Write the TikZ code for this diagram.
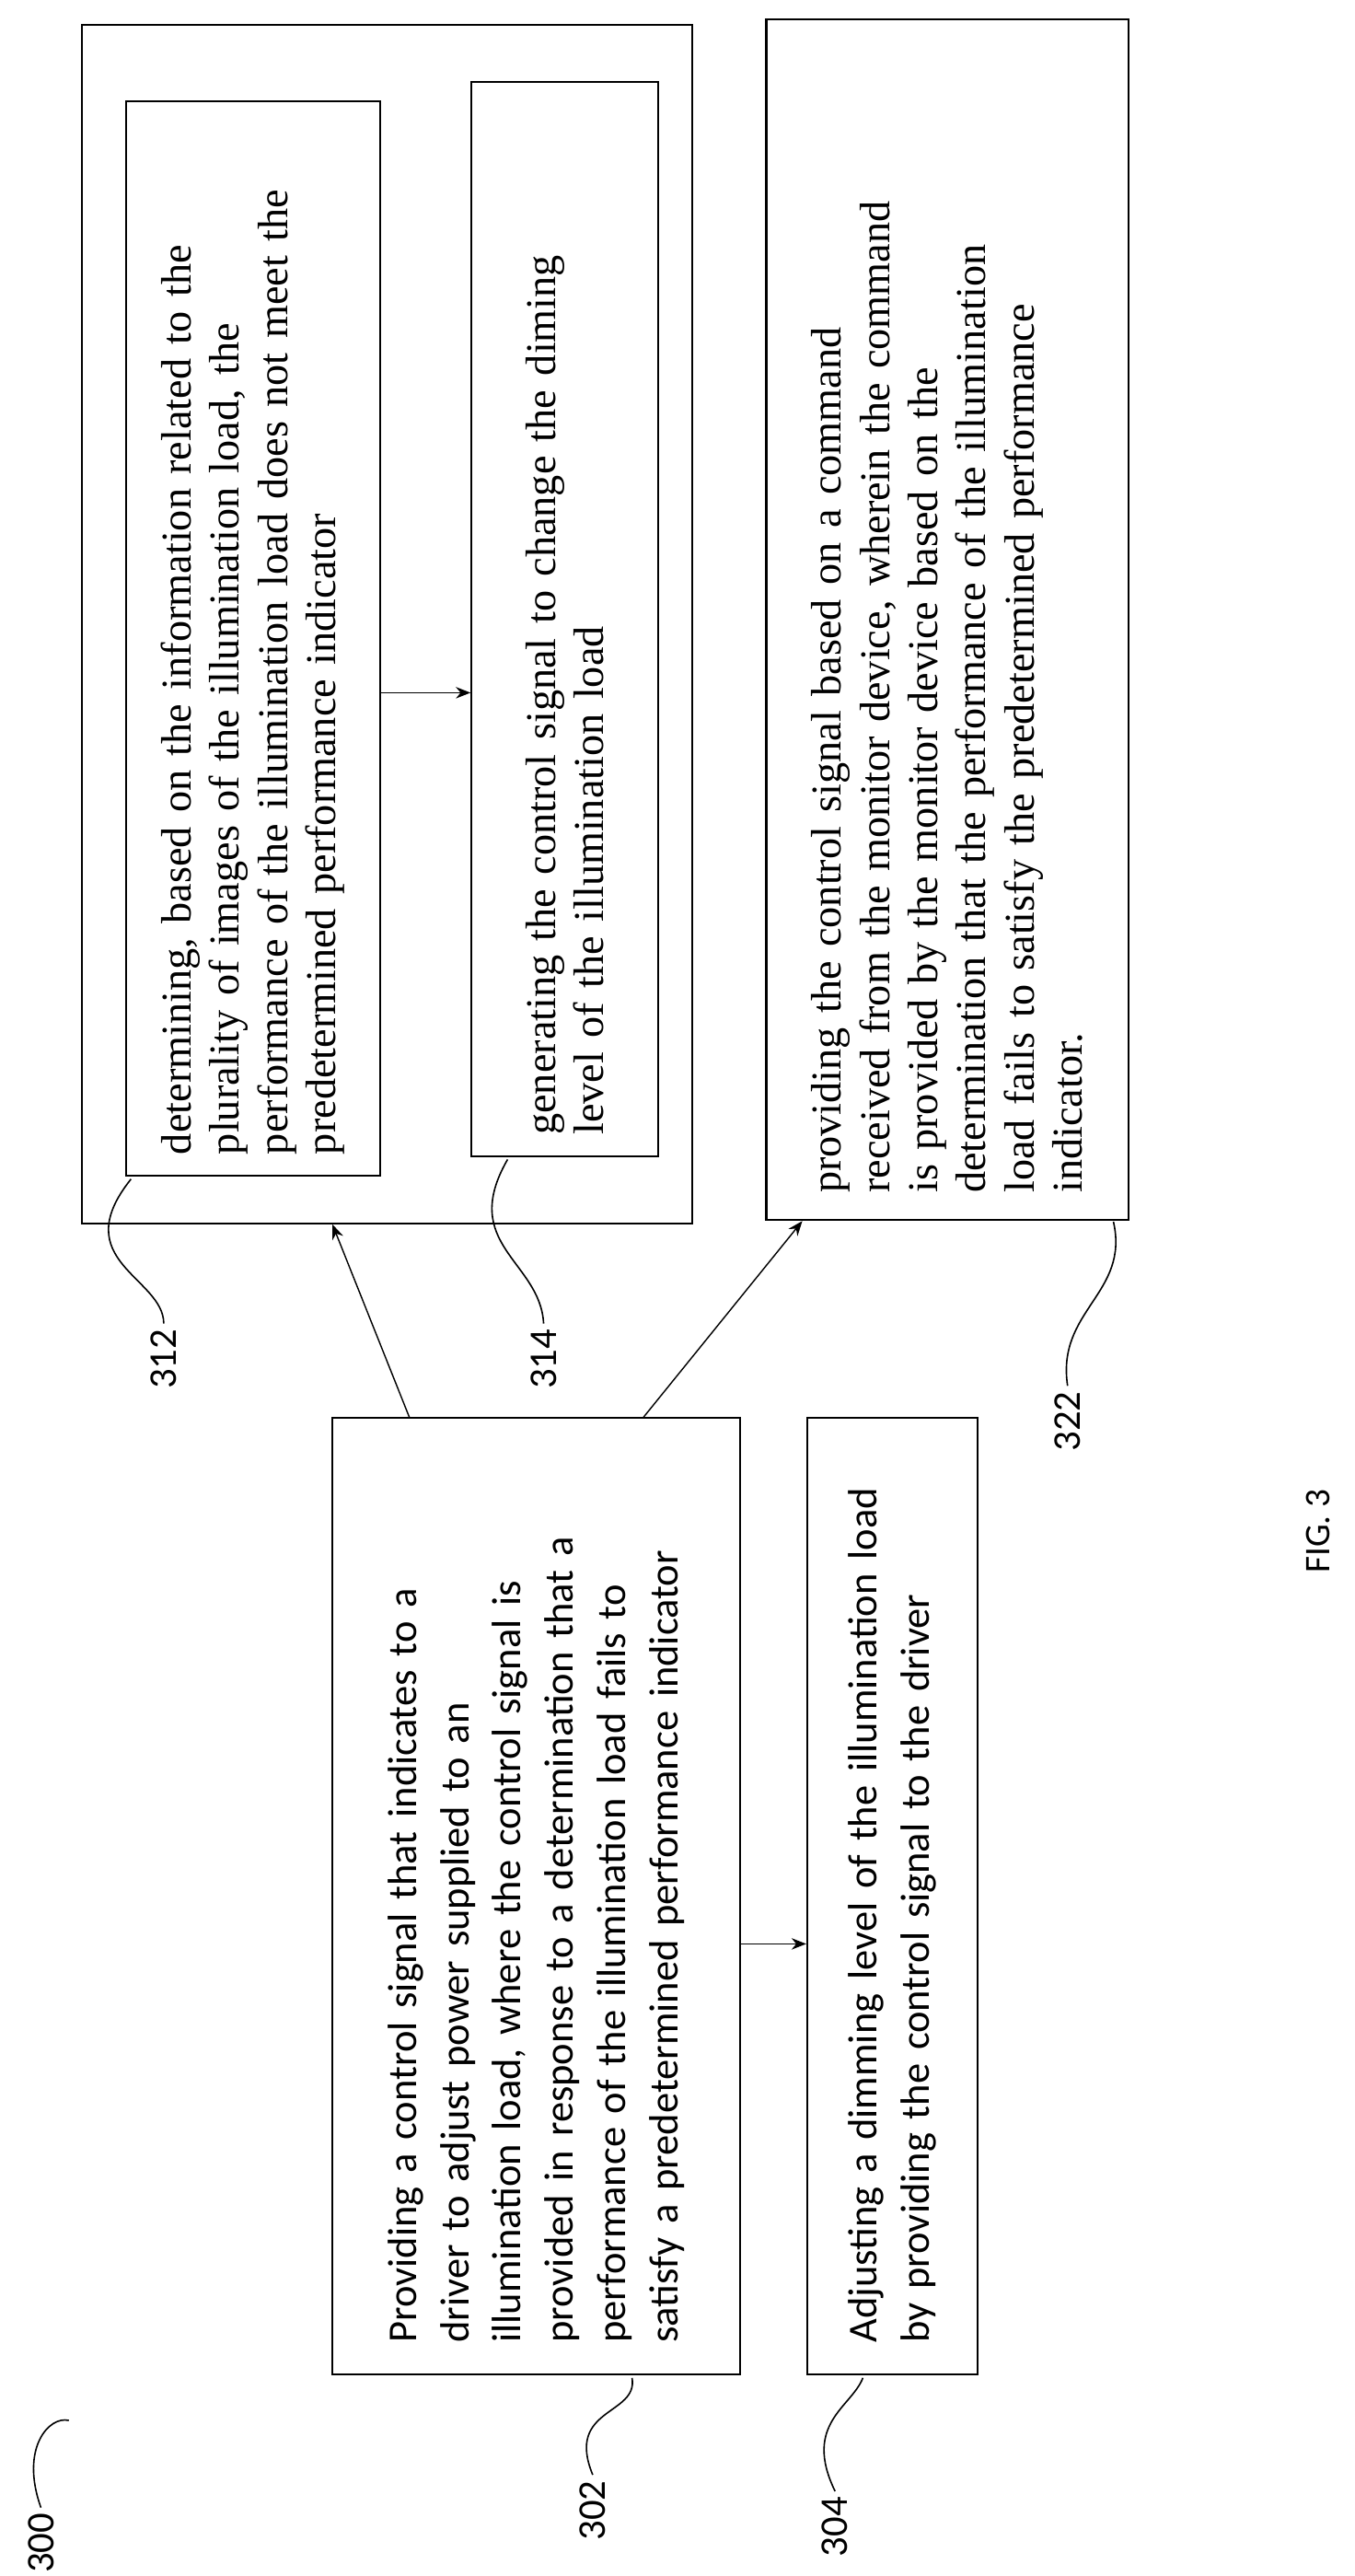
\documentclass[tikz,border=0pt]{standalone}
\usepackage{fontspec}
\setmainfont{Liberation Serif}
\newfontfamily\calfont{Carlito}
\usetikzlibrary{calc}
\begin{document}
\begin{tikzpicture}[x=1pt,y=1pt,
 box/.style={draw,line width=1.2pt,inner sep=0pt},
 sertxt/.style={rotate=90,align=left,font=\fontsize{26}{29.5}\selectfont,inner sep=0pt},
 caltxt/.style={rotate=90,align=left,font=\calfont\fontsize{25}{32}\selectfont,inner sep=0pt},
 lab/.style={rotate=90,font=\calfont\fontsize{24}{28}\selectfont},
 arr/.style={-{Stealth[length=9pt,width=7pt]},line width=0.8pt},
 lead/.style={line width=0.9pt}]
\usetikzlibrary{arrows.meta}
\useasboundingbox (0,0) rectangle (827,-1573);
\node[box,minimum width=373pt,minimum height=732pt] (outer) at (236.5,-381) {};
\node[box,minimum width=155pt,minimum height=656pt] (b312) at (154.5,-390) {};
\node[box,minimum width=114pt,minimum height=656pt] (b314) at (345,-378) {};
\node[box,minimum width=221pt,minimum height=733pt] (b322) at (578.5,-378.5) {};
\node[box,minimum width=249pt,minimum height=584pt] (b302) at (327.5,-1158) {};
\node[box,minimum width=104pt,minimum height=584pt] (b304) at (545,-1158) {};
\node[sertxt,text width=630pt] (t312) at (154.5,-390) {determining, based on the information related to the\\plurality of images of the illumination load, the\\performance of the illumination load does not meet the\\predetermined performance indicator};
\node[sertxt,text width=630pt] (t314) at (345,-378) {generating the control signal to change the diming\\level of the illumination load};
\node[sertxt,text width=700pt] (t322) at (578.5,-378.5) {providing the control signal based on a command\\received from the monitor device, wherein the command\\is provided by the monitor device based on the\\determination that the performance of the illumination\\load fails to satisfy the predetermined performance\\indicator.};
\node[caltxt,text width=545pt] (t302) at (327.5,-1158) {Providing a control signal that indicates to a\\driver to adjust power supplied to an\\illumination load, where the control signal is\\provided in response to a determination that a\\performance of the illumination load fails to\\satisfy a predetermined performance indicator};
\node[caltxt,text width=545pt] (t304) at (545,-1158) {Adjusting a dimming level of the illumination load\\by providing the control signal to the driver};
\draw[arr] (b312.east |- 0,-423) -- (b314.west |- 0,-423);
\draw[arr] (b302.north -| 250,0) -- (outer.south -| 203,0);
\draw[arr] (b302.north -| 393,0) -- (b322.south -| 490,0);
\draw[arr] (b302.east |- 0,-1187) -- (b304.west |- 0,-1187);
\node[lab] (l300) at (25,-1553) {300};
\node[lab] (l302) at (362,-1533) {302};
\node[lab] (l304) at (510,-1543) {304};
\node[lab] (l312) at (100,-830) {312};
\node[lab] (l314) at (332,-830) {314};
\node[lab] (l322) at (652,-868) {322};
\node[rotate=90,font=\calfont\fontsize{22}{26}\selectfont] (fig) at (805,-935) {FIG. 3};
\coordinate (c300) at (42,-1478);
\coordinate (c302) at (386,-1452);
\coordinate (c304) at (527,-1452);
\coordinate (c312) at (80,-720);
\coordinate (c314) at (310,-708);
\coordinate (c322) at (680,-746);
\draw[lead] (l300.east) .. controls (12,-1495) and (30,-1475) .. (c300);
\draw[lead] (l302.east) .. controls (345,-1470) and (390,-1475) .. (c302);
\draw[lead] (l304.east) .. controls (490,-1480) and (520,-1470) .. (c304);
\draw[lead] (l312.east) .. controls (100,-780) and (40,-770) .. (c312);
\draw[lead] (l314.east) .. controls (330,-770) and (280,-760) .. (c314);
\draw[lead] (l322.east) .. controls (645,-800) and (690,-790) .. (c322);
\end{tikzpicture}
\end{document}
